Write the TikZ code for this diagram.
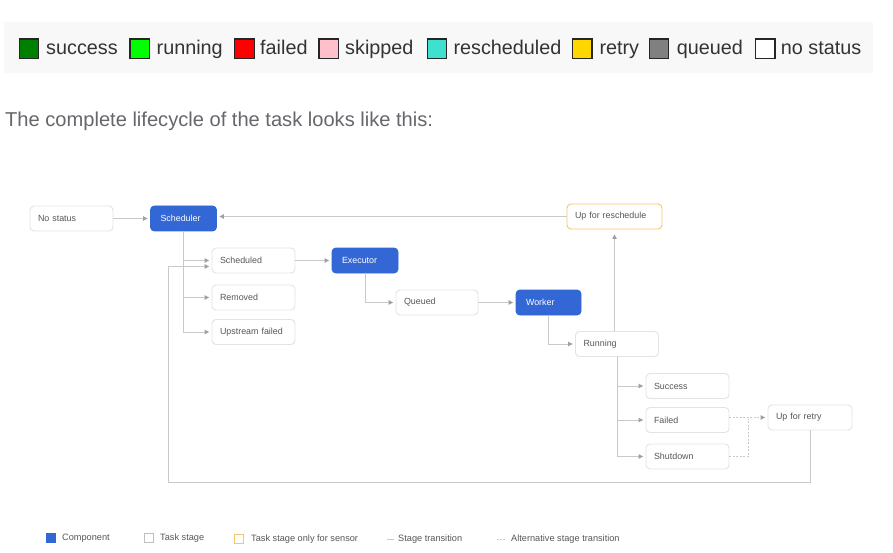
\documentclass[tikz,border=0pt]{standalone}
\usepackage{fontspec}
\setmainfont{Liberation Sans}
\usetikzlibrary{arrows.meta,calc}
\definecolor{compblue}{HTML}{3367D6}
\definecolor{sensorora}{HTML}{F7C46C}
\definecolor{boxline}{HTML}{E3E3E3}
\definecolor{conncol}{HTML}{C9C9C9}
\definecolor{tipc}{HTML}{A0A0A0}
\definecolor{ntext}{HTML}{575757}
\definecolor{bargray}{HTML}{F8F8F8}
\definecolor{lgtxt}{HTML}{333333}
\begin{document}
\begin{tikzpicture}[x=1pt,y=-1pt,
  lgbox/.style={draw=black!85, line width=1.4pt, minimum size=19.5pt, inner sep=0pt},
  lgtext/.style={anchor=base west, inner sep=0pt, font=\fontsize{19.8}{22}\selectfont, text=lgtxt},
  tstage/.style={draw=boxline, line width=0.9pt, rounded corners=4pt, fill=white,
    minimum height=25pt, inner xsep=8pt, inner ysep=0pt, text width=#1, align=left,
    font=\fontsize{8.9}{10}\selectfont, text=ntext},
  comp/.style={draw=compblue, fill=compblue, line width=0.9pt, rounded corners=4pt,
    minimum height=25pt, inner xsep=10pt, inner ysep=0pt, text width=#1, align=left,
    font=\fontsize{8.9}{10}\selectfont, text=white},
  sensorbox/.style={tstage=#1, draw=sensorora},
  conn/.style={draw=conncol, line width=0.9pt},
  dconn/.style={draw=conncol, line width=0.9pt, dash pattern=on 2pt off 1.5pt},
  arr/.style={-{Triangle[length=4.5pt,width=4.5pt,color=tipc]}, shorten >=2.5pt},
  bottxt/.style={anchor=west, inner sep=0pt, font=\fontsize{9.2}{10}\selectfont, text=ntext}
]
\useasboundingbox (0,0) rectangle (893,553);
\fill[white] (0,0) rectangle (893,553);

% top colour legend
\fill[bargray] (4,22) rectangle (873,73);
\node[lgbox, fill={rgb,255:red,0;green,128;blue,0}] (ksuccess) at (29,48.8) {};
\node[lgtext] (tsuccess) at (46,54.5) {success};
\node[lgbox, fill={rgb,255:red,0;green,255;blue,0}] (krunning) at (139.7,48.8) {};
\node[lgtext] (trunning) at (156.5,54.5) {running};
\node[lgbox, fill={rgb,255:red,255;green,0;blue,0}] (kfailed) at (244.5,48.8) {};
\node[lgtext] (tfailed) at (260,54.5) {failed};
\node[lgbox, fill={rgb,255:red,255;green,192;blue,203}] (kskipped) at (328.8,48.8) {};
\node[lgtext] (tskipped) at (345,54.5) {skipped};
\node[lgbox, fill={rgb,255:red,64;green,224;blue,208}] (kresch) at (437,48.8) {};
\node[lgtext] (tresch) at (453.3,54.5) {rescheduled};
\node[lgbox, fill={rgb,255:red,255;green,215;blue,0}] (kretry) at (582.2,48.8) {};
\node[lgtext] (tretry) at (599.3,54.5) {retry};
\node[lgbox, fill={rgb,255:red,128;green,128;blue,128}] (kqueued) at (659,48.8) {};
\node[lgtext] (tqueued) at (676.7,54.5) {queued};
\node[lgbox, fill=white] (knostatus) at (765.3,48.8) {};
\node[lgtext] (tnostatus) at (780.7,54.5) {no status};

% intro sentence
\node[anchor=base west, inner sep=0pt, font=\fontsize{20.1}{24}\selectfont, text={rgb,255:red,102;green,102;blue,108}] (intro) at (5,127) {The complete lifecycle of the task looks like this:};

% diagram nodes
\node[tstage=67pt] (nostatus) at (71.5,218.5) {No status};
\node[comp=46pt] (scheduler) at (183.5,218.5) {Scheduler};
\node[tstage=67pt] (scheduled) at (253.5,260.5) {Scheduled};
\node[tstage=67pt] (removed) at (253.5,297.5) {Removed};
\node[tstage=67pt] (upfailed) at (253.5,332) {Upstream failed};
\node[comp=46pt] (executor) at (365,260.5) {Executor};
\node[sensorbox=79pt] (reschedule) at (614.5,216.5) {Up for reschedule};
\node[tstage=66pt] (queued) at (437,302.5) {Queued};
\node[comp=45pt] (worker) at (548.5,302.5) {Worker};
\node[tstage=67pt] (running) at (617,344) {Running};
\node[tstage=67pt] (success) at (687.5,386) {Success};
\node[tstage=67pt] (failedn) at (687.5,420) {Failed};
\node[tstage=67pt] (shutdown) at (687.5,456.5) {Shutdown};
\node[tstage=68pt] (retry) at (810,417.5) {Up for retry};
\coordinate (loopcorner) at (168,482);

% connectors
\draw[conn,arr] (nostatus) -- (scheduler);
\draw[conn,arr] (reschedule.west) -- (reschedule.west -| scheduler.east);
\draw[conn,arr] (scheduler.south) |- (scheduled.west);
\draw[conn,arr] (scheduler.south) |- (removed.west);
\draw[conn,arr] (scheduler.south) |- (upfailed.west);
\draw[conn,arr] (scheduled) -- (executor);
\draw[conn,arr] (executor.south) |- (queued.west);
\draw[conn,arr] (queued) -- (worker);
\draw[conn,arr] (worker.south) |- (running.west);
\draw[conn,arr,shorten >=5pt] (running.north -| reschedule.south) -- (reschedule.south);
\draw[conn,arr] (running.south) |- (success.west);
\draw[conn,arr] (running.south) |- (failedn.west);
\draw[conn,arr] (running.south) |- (shutdown.west);
\draw[dconn,arr] (retry.west -| failedn.east) -- (retry.west);
\draw[dconn] (shutdown.east) -| ($(failedn.east)!0.5!(retry.west)$);
\draw[conn,arr] (retry.south) |- (loopcorner) |- ($(scheduled.west)+(0,6)$);

% bottom legend
\node[fill=compblue, minimum size=10pt, inner sep=0pt] (lgcomp) at (51,538) {};
\node[bottxt] (lgcompt) at (62,538.5) {Component};
\node[draw=black!25, line width=0.8pt, minimum size=9.5pt, inner sep=0pt] (lgstage) at (149,538) {};
\node[bottxt] (lgstaget) at (160,538.5) {Task stage};
\node[draw=sensorora, line width=0.9pt, minimum size=9.5pt, inner sep=0pt] (lgsensor) at (239,539) {};
\node[bottxt] (lgsensort) at (251,539) {Task stage only for sensor};
\draw[conn] (387,539.5) -- (394,539.5);
\node[bottxt] (lgtrans) at (398,539.5) {Stage transition};
\draw[dconn, dash pattern=on 1.5pt off 1.5pt] (497,539.5) -- (506,539.5);
\node[bottxt] (lgalt) at (511,539.5) {Alternative stage transition};
\end{tikzpicture}
\end{document}
